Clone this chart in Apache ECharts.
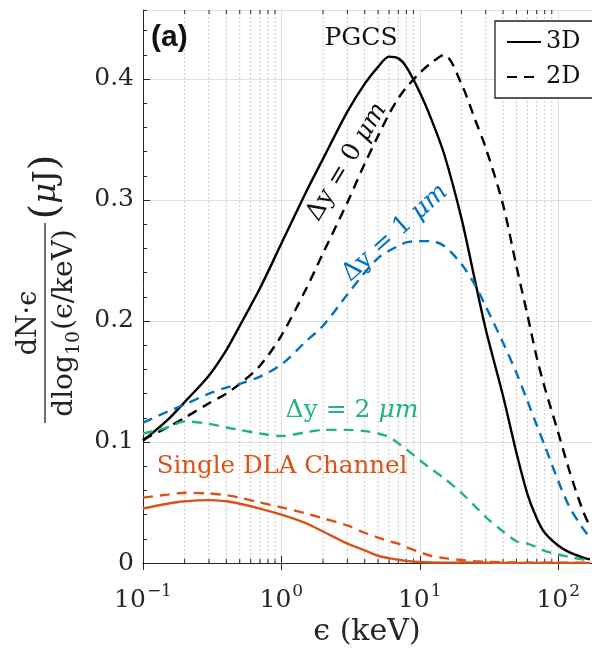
<!DOCTYPE html>
<html><head><meta charset="utf-8">
<script src="https://cdn.jsdelivr.net/npm/echarts@6/dist/echarts.min.js"></script>
<style>html,body{margin:0;padding:0;background:#fff}#c{width:592px;height:651px}</style>
</head><body><div id="c"></div>
<script>
// Photon energy grid (keV)
const energy = [0.1,0.15,0.2,0.3,0.4,0.5,0.7,1,1.5,2,3,4,5,6,7,8,10,12,15,20,25,30,40,50,60,70,80,100,120,150,170];
// PGCS, Δy = 0 µm, 3D (solid black)
const pgcs3D = [0.101,0.118,0.133,0.155,0.176,0.196,0.227,0.264,0.306,0.334,0.373,0.396,0.410,0.4185,0.417,0.410,0.389,0.368,0.338,0.285,0.234,0.193,0.138,0.091,0.057,0.037,0.025,0.0145,0.009,0.0047,0.003];
// PGCS, Δy = 0 µm, 2D (dashed black)
const pgcs2D = [0.102,0.112,0.120,0.132,0.140,0.148,0.163,0.188,0.226,0.256,0.298,0.330,0.353,0.371,0.384,0.393,0.405,0.413,0.420,0.396,0.367,0.343,0.296,0.245,0.205,0.170,0.145,0.108,0.077,0.044,0.030];
// Δy = 1 µm, 2D (dashed blue)
const dy1 = [0.116,0.125,0.131,0.140,0.145,0.148,0.154,0.164,0.183,0.196,0.222,0.240,0.252,0.258,0.262,0.265,0.266,0.266,0.262,0.247,0.230,0.212,0.182,0.157,0.134,0.114,0.097,0.068,0.047,0.029,0.021];
// Δy = 2 µm, 2D (dashed green)
const dy2 = [0.107,0.112,0.117,0.115,0.112,0.110,0.107,0.105,0.108,0.110,0.110,0.109,0.107,0.104,0.099,0.094,0.085,0.078,0.070,0.058,0.047,0.038,0.026,0.018,0.016,0.013,0.010,0.007,0.005,0.003,0.002];
// Single DLA channel, 3D (solid orange)
const dla3D = [0.045,0.049,0.051,0.052,0.051,0.049,0.045,0.040,0.033,0.026,0.016,0.0105,0.006,0.004,0.0027,0.0018,0.0008,0.0004,0.0003,0.0004,0.0003,0.0002,0.0001,0.0001,0.0001,0.0001,0.0001,0.0001,0.0001,0.0001,0.0001];
// Single DLA channel, 2D (dashed orange)
const dla2D = [0.054,0.0565,0.058,0.0575,0.056,0.054,0.050,0.046,0.041,0.037,0.031,0.025,0.021,0.018,0.016,0.013,0.009,0.006,0.004,0.0025,0.0015,0.001,0.0006,0.0004,0.0003,0.0003,0.0002,0.0002,0.0002,0.0002,0.0002];
// minor log ticks on the x axis
const xMinor = [0.2,0.3,0.4,0.5,0.6,0.7,0.8,0.9,2,3,4,5,6,7,8,9,20,30,40,50,60,70,80,90];

const X_MIN = 0.1, X_MAX = 175.7, Y_MIN = 0, Y_MAX = 0.457;
const SERIF = 'DejaVu Serif';
const AX = '#262626';
const C_BLUE = '#0072BD', C_GREEN = '#21B47E', C_ORANGE = '#D95319';

const pts = ys => energy.map((e, i) => [e, ys[i]]);
function line(name, ys, color, dashed) {
  return {
    name, type: 'line', data: pts(ys), xAxisIndex: 0, yAxisIndex: 0,
    showSymbol: false, symbol: 'none', smooth: 0.3,
    lineStyle: { color, width: 2.4, type: dashed ? [10, 7] : 'solid' },
    itemStyle: { color }, z: 5, animation: false
  };
}

const chart = echarts.init(document.getElementById('c'), null, { renderer: 'canvas' });
chart.setOption({
  animation: false,
  backgroundColor: '#fff',
  grid: { left: 143, right: -2, top: 10, bottom: 88, containLabel: false },
  legend: {
    data: ['3D', '2D'], left: 495, top: 21, orient: 'vertical',
    backgroundColor: '#fff', borderColor: '#222', borderWidth: 1.3,
    padding: [9, 30, 9, 11], itemWidth: 34, itemHeight: 14, itemGap: 11,
    itemStyle: { color: 'rgba(0,0,0,0)', borderWidth: 0, opacity: 0 },
    textStyle: { fontFamily: SERIF, fontSize: 24, color: '#111', lineHeight: 24 }
  },
  xAxis: [{
    type: 'log', logBase: 10, min: X_MIN, max: X_MAX, position: 'bottom',
    axisLine: { show: true, lineStyle: { color: AX, width: 1 } },
    axisTick: { show: true, inside: true, length: 7, lineStyle: { color: AX } },
    splitLine: { show: true, lineStyle: { color: '#dedede', width: 1 } },
    axisLabel: {
      show: true, margin: 20, showMaxLabel: false,
      formatter: v => {
        const e = Math.round(Math.log10(v));
        return '{b|10}{s|' + (e < 0 ? '\u2212' + (-e) : e) + '}';
      },
      rich: {
        b: { fontFamily: SERIF, fontSize: 25, color: AX, verticalAlign: 'bottom', lineHeight: 30 },
        s: { fontFamily: SERIF, fontSize: 17, color: AX, verticalAlign: 'bottom', padding: [0, 0, 13, 1], lineHeight: 30 }
      }
    }
  }, {
    type: 'log', logBase: 10, min: X_MIN, max: X_MAX, position: 'top',
    axisLine: { show: true, lineStyle: { color: AX, width: 1 } },
    axisTick: { show: true, inside: true, length: 7, lineStyle: { color: AX } },
    splitLine: { show: false }, axisLabel: { show: false }
  }],
  yAxis: [{
    type: 'value', min: Y_MIN, max: Y_MAX, interval: 0.1, position: 'left',
    axisLine: { show: true, lineStyle: { color: AX, width: 1 } },
    axisTick: { show: true, inside: true, length: 7, lineStyle: { color: AX } },
    splitLine: { show: true, lineStyle: { color: '#dedede', width: 1 } },
    axisLabel: {
      show: true, margin: 9, showMaxLabel: false,
      fontFamily: SERIF, fontSize: 25, color: AX,
      formatter: v => v === 0 ? '0' : v.toFixed(1)
    }
  }, {
    type: 'value', min: Y_MIN, max: Y_MAX, interval: 0.02, position: 'left', offset: 0,
    axisLine: { show: false },
    axisTick: { show: true, inside: true, length: 4, lineStyle: { color: AX } },
    splitLine: { show: false }, axisLabel: { show: false }
  }],
  series: [
    {
      type: 'custom', name: 'minor', xAxisIndex: 0, yAxisIndex: 0, z: 1, silent: true,
      data: xMinor.map(v => [v, 0]),
      renderItem: (params, api) => {
        const x = api.value(0);
        const p0 = api.coord([x, Y_MIN]);
        const p1 = api.coord([x, Y_MAX]);
        return { type: 'group', children: [
          { type: 'line', shape: { x1: p0[0], y1: p0[1], x2: p1[0], y2: p1[1] },
            style: { stroke: '#c9c9c9', lineWidth: 1, lineDash: [2, 2] } },
          { type: 'line', shape: { x1: p0[0], y1: p0[1], x2: p0[0], y2: p0[1] - 4 },
            style: { stroke: AX, lineWidth: 1 } },
          { type: 'line', shape: { x1: p1[0], y1: p1[1], x2: p1[0], y2: p1[1] + 4 },
            style: { stroke: AX, lineWidth: 1 } }
        ] };
      }
    },
    line('3D', pgcs3D, '#000', false),
    line('2D', pgcs2D, '#000', true),
    line('dy1', dy1, C_BLUE, true),
    line('dy2', dy2, C_GREEN, true),
    line('dla3D', dla3D, C_ORANGE, false),
    line('dla2D', dla2D, C_ORANGE, true)
  ],
  graphic: [
    { type: 'text', x: 151, y: 38, style: { text: '(a)', fontFamily: 'Liberation Sans', fontWeight: 'bold', fontSize: 30, fill: '#111', verticalAlign: 'middle' }, z: 20 },
    { type: 'text', x: 361, y: 38, style: { text: 'PGCS', fontFamily: SERIF, fontSize: 25, fill: '#111', align: 'center', verticalAlign: 'middle' }, z: 20 },
    { type: 'text', x: 347, y: 162, rotation: 59 * Math.PI / 180, z: 20,
      style: { text: '{n|\u0394y = 0 }{i|\u03bcm}', align: 'center', verticalAlign: 'middle',
        rich: { n: { fontFamily: SERIF, fontSize: 25, fill: '#111' }, i: { fontFamily: SERIF, fontStyle: 'italic', fontSize: 25, fill: '#111' } } } },
    { type: 'text', x: 395, y: 233, rotation: 42 * Math.PI / 180, z: 20,
      style: { text: '{n|\u0394y = 1 }{i|\u03bcm}', align: 'center', verticalAlign: 'middle',
        rich: { n: { fontFamily: SERIF, fontSize: 25, fill: C_BLUE }, i: { fontFamily: SERIF, fontStyle: 'italic', fontSize: 25, fill: C_BLUE } } } },
    { type: 'text', x: 352, y: 410, z: 20,
      style: { text: '{n|\u0394y = 2 }{i|\u03bcm}', align: 'center', verticalAlign: 'middle',
        rich: { n: { fontFamily: SERIF, fontSize: 25, fill: C_GREEN }, i: { fontFamily: SERIF, fontStyle: 'italic', fontSize: 25, fill: C_GREEN } } } },
    { type: 'text', x: 282, y: 467, z: 20,
      style: { text: 'Single DLA Channel', fontFamily: SERIF, fontSize: 24.5, fill: C_ORANGE, align: 'center', verticalAlign: 'middle' } },
    { type: 'text', x: 367, y: 632, z: 20,
      style: { text: '\u03f5 (keV)', fontFamily: SERIF, fontSize: 30, fill: AX, align: 'center', verticalAlign: 'middle' } },
    { type: 'group', x: 45, y: 323, rotation: Math.PI / 2, z: 20, children: [
      { type: 'line', shape: { x1: -100, y1: 0, x2: 100, y2: 0 }, style: { stroke: '#222', lineWidth: 1.3 } },
      { type: 'text', x: 0, y: -16, style: { text: 'dN\u00b7\u03f5', fontFamily: SERIF, fontSize: 27, fill: '#222', align: 'center', verticalAlign: 'middle' } },
      { type: 'text', x: 0, y: 20, style: { text: '{a|dlog}{s|10}{a|(\u03f5/keV)}', align: 'center', verticalAlign: 'middle',
        rich: { a: { fontFamily: SERIF, fontSize: 28, fill: '#222', verticalAlign: 'bottom' }, s: { fontFamily: SERIF, fontSize: 19, fill: '#222', verticalAlign: 'bottom', padding: [0, 1, -5, 0] } } } },
      { type: 'text', x: 136, y: 2, style: { text: '{p|(}{m|\u03bc}{j|J}{p|)}', align: 'center', verticalAlign: 'middle',
        rich: { p: { fontFamily: SERIF, fontSize: 40, fill: '#222' }, m: { fontFamily: SERIF, fontStyle: 'italic', fontSize: 32, fill: '#222' }, j: { fontFamily: SERIF, fontSize: 32, fill: '#222' } } } }
    ] }
  ]
});
</script>
</body></html>
